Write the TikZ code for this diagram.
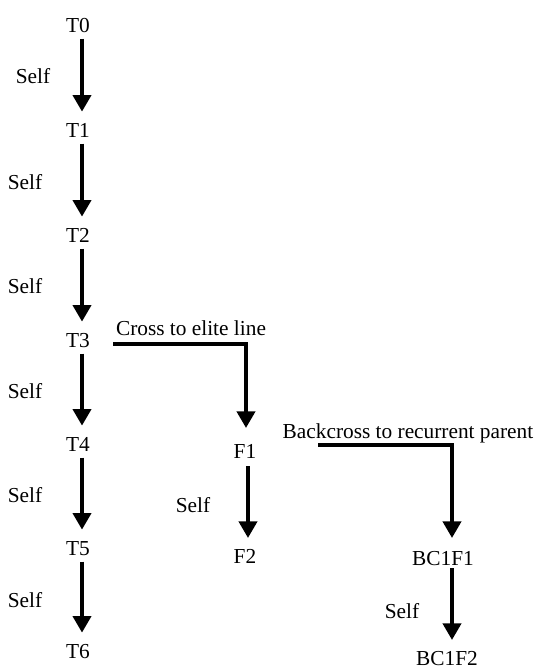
\documentclass[tikz,border=0pt]{standalone}
\usepackage{fontspec}
\setmainfont{Liberation Serif}
\usetikzlibrary{arrows.meta}
\begin{document}
\begin{tikzpicture}[x=0.75pt,y=-0.75pt,
  lbl/.style={inner sep=0pt, anchor=base, font=\fontsize{16}{18}\selectfont},
  flow/.style={line width=3pt, -{Triangle[length=12.5pt,width=13.5pt]}}]
\useasboundingbox (0,0) rectangle (535,669);
% main column
\node[lbl] (T0) at (78,32) {T0};
\node[lbl] (T1) at (78,137) {T1};
\node[lbl] (T2) at (78,242) {T2};
\node[lbl] (T3) at (78,347) {T3};
\node[lbl] (T4) at (78,451) {T4};
\node[lbl] (T5) at (78,555) {T5};
\node[lbl] (T6) at (78,658) {T6};
\node[lbl] (s0) at (33,83) {Self};
\node[lbl] (s1) at (25,189) {Self};
\node[lbl] (s2) at (25,293) {Self};
\node[lbl] (s3) at (25,398) {Self};
\node[lbl] (s4) at (25,502) {Self};
\node[lbl] (s5) at (25,607) {Self};
\foreach \a/\b in {T0/T1,T1/T2,T2/T3,T3/T4,T4/T5,T5/T6}
  \draw[flow] ([xshift=3pt,yshift=-5pt]\a.base) -- ([xshift=3pt,yshift=19pt]\b.base);
% cross branch
\node[lbl] (cross) at (191,335) {Cross to elite line};
\node[lbl] (F1) at (245,458) {F1};
\node[lbl] (F2) at (245,563) {F2};
\node[lbl] (s6) at (193,512) {Self};
\draw[flow] ([xshift=26.25pt,yshift=2.25pt]T3.base) -| ([xshift=0.75pt,yshift=22.5pt]F1.base);
\draw[flow] ([xshift=2.25pt,yshift=-6pt]F1.base) -- ([xshift=2.25pt,yshift=18.75pt]F2.base);
% backcross branch
\node[lbl] (back) at (408,438) {Backcross to recurrent parent};
\node[lbl] (BC1) at (443,565) {BC1F1};
\node[lbl] (BC2) at (447,665) {BC1F2};
\node[lbl] (s7) at (402,618) {Self};
\draw[flow] ([xshift=54.75pt,yshift=9.75pt]F1.base) -| ([xshift=6.75pt,yshift=20.25pt]BC1.base);
\draw[flow] ([xshift=6.75pt,yshift=-2.25pt]BC1.base) -- ([xshift=3.75pt,yshift=18.75pt]BC2.base);
\end{tikzpicture}
\end{document}
